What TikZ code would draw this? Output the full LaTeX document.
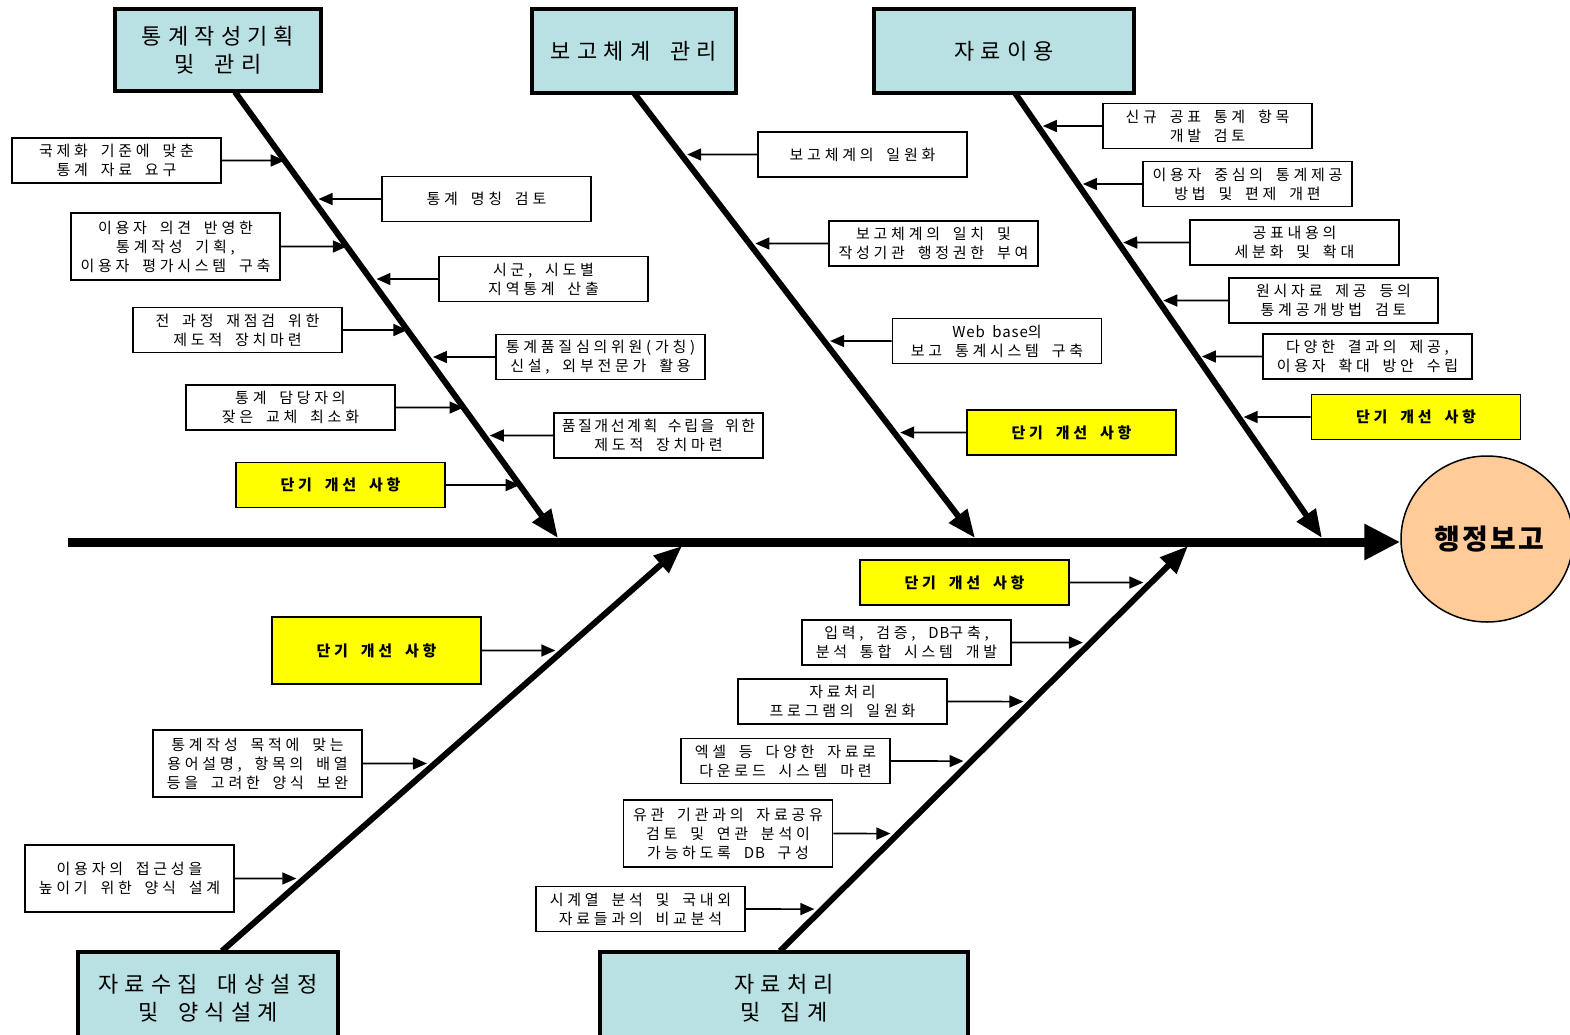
\documentclass[tikz,border=0pt]{standalone}
\usepackage{fontspec}
\setmainfont{Noto Sans CJK KR}
\newfontfamily\krs[LetterSpace=25,WordSpace=1.8]{Noto Sans CJK KR}
\newfontfamily\krl[LetterSpace=28,WordSpace=1.8]{Noto Sans CJK KR}
\newfontfamily\krg[LetterSpace=8]{Noto Sans CJK KR}
\newcommand\lat[1]{{\addfontfeature{LetterSpace=6}#1}}
\usetikzlibrary{arrows.meta,shapes.geometric}
\definecolor{catblue}{HTML}{B9E0E3}
\definecolor{hiyel}{HTML}{FFFF00}
\definecolor{goalc}{HTML}{FFCC99}
\tikzset{
  cat/.style={draw, line width=4pt, fill=catblue, inner sep=0pt, align=center,
    font=\krl\fontsize{22}{28}\selectfont},
  sbox/.style={draw, line width=1.8pt, fill=white, inner sep=0pt,
    minimum width=209pt, minimum height=45pt, align=center,
    font=\krs\fontsize{15}{19}\selectfont},
  ybox/.style={sbox, fill=hiyel, font=\krs\bfseries\fontsize{15}{19}\selectfont},
  bone/.style={line width=6pt, -{Triangle[length=28pt,width=22pt]}},
  spine/.style={line width=9pt, -{Triangle[length=36pt,width=34pt]}},
  arr/.style={line width=1.6pt, -{Triangle[length=14pt,width=12pt]}},
  goalnode/.style={ellipse, draw, line width=1.5pt, fill=goalc, inner sep=0pt,
    minimum width=172pt, minimum height=166pt, font=\krg\bfseries\fontsize{28}{32}\selectfont},
}
\begin{document}
\begin{tikzpicture}[x=1pt,y=-1pt]
\useasboundingbox (0,0) rectangle (1570,1035);
\clip (0,0) rectangle (1570,1035);

% bone coordinates
\coordinate (s1) at (235,92);   \coordinate (t1) at (558,538);
\coordinate (s2) at (634,93);   \coordinate (t2) at (975,538);
\coordinate (s3) at (1015,93);  \coordinate (t3) at (1322,538);
\coordinate (s4) at (222,951);  \coordinate (t4) at (682,546);
\coordinate (s5) at (780,951);  \coordinate (t5) at (1188,546);
\coordinate (sp) at (68,542);

% goal
\node[goalnode] (goal) at (1487,539) {\hspace*{4pt}행정보고};

% spine and bones
\draw[spine] (sp) -- (sp -| goal.west);
\draw[bone] (s1) -- (t1);
\draw[bone] (s2) -- (t2);
\draw[bone] (s3) -- (t3);
\draw[bone] (s4) -- (t4);
\draw[bone] (s5) -- (t5);

% category boxes
\node[cat, minimum width=206pt, minimum height=82pt] (k1) at (218,50) {통계작성기획\\및 관리};
\node[cat, minimum width=204pt, minimum height=84pt] (k2) at (634,51) {보고체계 관리};
\node[cat, minimum width=260pt, minimum height=84pt] (k3) at (1004,51) {자료이용};
\node[cat, minimum width=260pt, minimum height=93pt] (k4) at (208,998) {자료수집 대상설정\\및 양식설계};
\node[cat, minimum width=368pt, minimum height=93pt] (k5) at (784,998) {자료처리\\및 집계};

% bone 1 left
\node[sbox] (a1) at (116.5,160.5) {국제화 기준에 맞춘\\통계 자료 요구};
\node[sbox, minimum height=67pt] (a2) at (175.5,246.5) {이용자 의견 반영한\\통계작성 기획,\\이용자 평가시스템 구축};
\node[sbox] (a3) at (237.5,330) {전 과정 재점검 위한\\제도적 장치마련};
\node[sbox] (a4) at (290.5,407.5) {통계 담당자의\\잦은 교체 최소화};
\node[ybox] (a5) at (340.5,485) {단기 개선 사항};
\foreach \n in {a1,a2,a3,a4,a5}
  \draw[arr] (\n.east) -- (intersection of \n.west--\n.east and s1--t1);

% bone 1 right
\node[sbox] (b1) at (486.5,199) {통계 명칭 검토};
\node[sbox] (b2) at (543.5,279) {시군, 시도별\\지역통계 산출};
\node[sbox] (b3) at (600.5,357) {통계품질심의위원(가칭)\\신설, 외부전문가 활용};
\node[sbox] (b4) at (658.5,435.5) {\addfontfeature{LetterSpace=17}품질개선계획 수립을 위한\\제도적 장치마련};
\foreach \n in {b1,b2,b3,b4}
  \draw[arr, shorten >=6pt] (\n.west) -- (intersection of \n.east--\n.west and s1--t1);

% bone 2 right
\node[sbox] (c1) at (862.5,154.5) {보고체계의 일원화};
\node[sbox] (c2) at (933.5,243.5) {보고체계의 일치 및\\작성기관 행정권한 부여};
\node[sbox] (c3) at (997,341) {\lat{Web base}의\\보고 통계시스템 구축};
\node[ybox] (c4) at (1071.5,432.5) {단기 개선 사항};
\foreach \n in {c1,c2,c3,c4}
  \draw[arr, shorten >=6pt] (\n.west) -- (intersection of \n.east--\n.west and s2--t2);

% bone 3 right
\node[sbox] (d1) at (1207.5,126) {신규 공표 통계 항목\\개발 검토};
\node[sbox] (d2) at (1247.5,184) {이용자 중심의 통계제공\\방법 및 편제 개편};
\node[sbox] (d3) at (1294.5,242.5) {공표내용의\\세분화 및 확대};
\node[sbox] (d4) at (1333.5,300.5) {원시자료 제공 등의\\통계공개방법 검토};
\node[sbox] (d5) at (1367.5,356.5) {다양한 결과의 제공,\\이용자 확대 방안 수립};
\node[ybox] (d6) at (1416,417) {단기 개선 사항};
\foreach \n in {d1,d2,d3,d4,d5,d6}
  \draw[arr, shorten >=5pt] (\n.west) -- (intersection of \n.east--\n.west and s3--t3);

% bottom bone 1 left
\node[ybox, minimum height=67pt] (e1) at (376.5,650.5) {단기 개선 사항};
\node[sbox, minimum height=67pt] (e2) at (257.5,763.5) {통계작성 목적에 맞는\\용어설명, 항목의 배열\\등을 고려한 양식 보완};
\node[sbox, minimum height=67pt] (e3) at (129.5,878.5) {이용자의 접근성을\\높이기 위한 양식 설계};
\foreach \n in {e1,e2,e3}
  \draw[arr, shorten >=8pt] (\n.east) -- (intersection of \n.west--\n.east and s4--t4);

% bottom bone 2 left
\node[ybox] (f1) at (964.5,582.5) {단기 개선 사항};
\node[sbox] (f2) at (906.5,642.5) {입력, 검증, \lat{DB}구축,\\분석 통합 시스템 개발};
\node[sbox] (f3) at (842.5,701.5) {자료처리\\프로그램의 일원화};
\node[sbox] (f4) at (785.5,761) {엑셀 등 다양한 자료로\\다운로드 시스템 마련};
\node[sbox, minimum height=67pt] (f5) at (728,833.5) {유관 기관과의 자료공유\\검토 및 연관 분석이\\가능하도록 \lat{DB} 구성};
\node[sbox] (f6) at (640.5,909) {시계열 분석 및 국내외\\자료들과의 비교분석};
\foreach \n in {f1,f2,f3,f4,f5,f6}
  \draw[arr, shorten >=8pt] (\n.east) -- (intersection of \n.west--\n.east and s5--t5);
\end{tikzpicture}
\end{document}
